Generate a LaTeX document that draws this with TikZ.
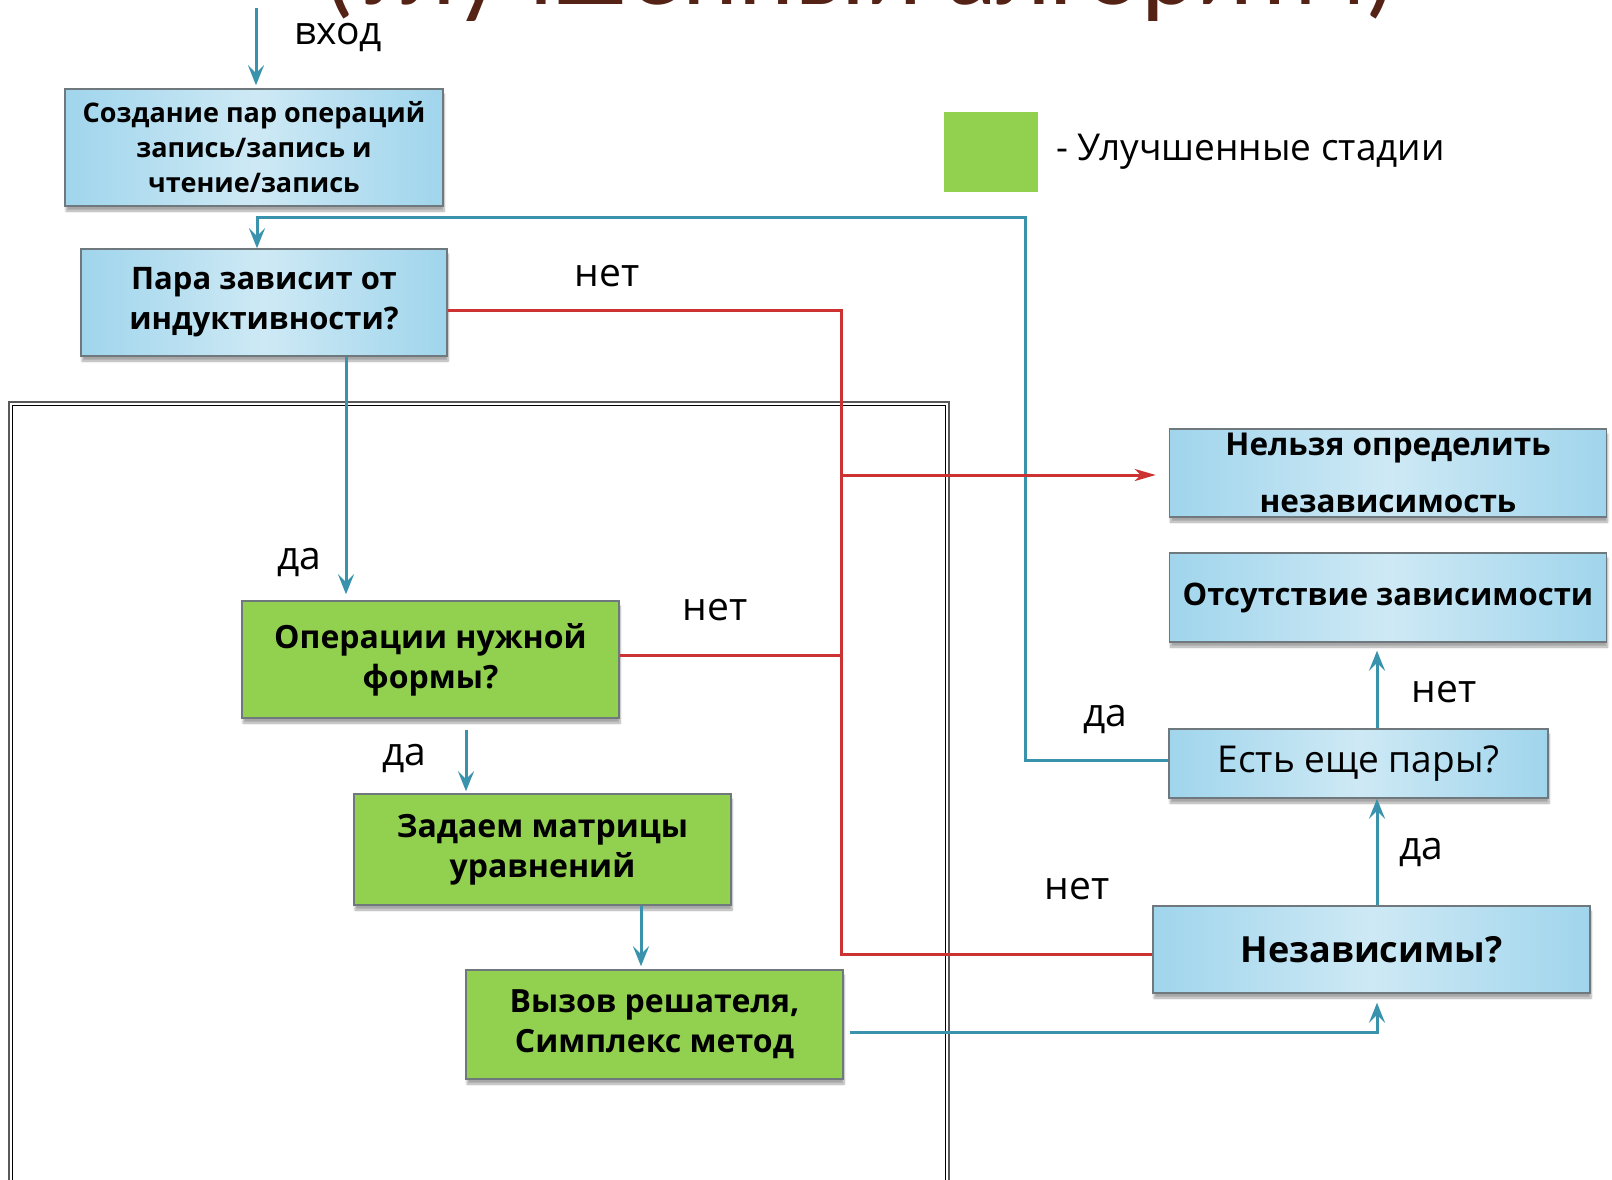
\documentclass[tikz,border=0pt]{standalone}
\usepackage{fontspec}
\setmainfont{Open Sans}
\newfontfamily\titlefont{Carlito}
\usetikzlibrary{arrows.meta,positioning,shadows.blur}

\definecolor{flowBlue}{RGB}{58,147,172}
\definecolor{noRed}{RGB}{204,50,50}
\definecolor{stageGreen}{RGB}{146,208,80}
\definecolor{skyEdge}{RGB}{160,213,236}
\definecolor{skyMid}{RGB}{206,233,245}
\definecolor{boxGray}{RGB}{110,120,125}
\definecolor{titleBrown}{RGB}{85,34,22}

\begin{document}
\begin{tikzpicture}[x=1pt,y=-1pt,
  >={Stealth[length=20pt,width=16pt,inset=8pt]},
  box/.style={draw=boxGray,line width=1.5pt,align=center,inner sep=0pt,
    blur shadow={shadow xshift=1pt,shadow yshift=-5pt,shadow blur steps=6,shadow opacity=35}},
  sky/.style={box,left color=skyEdge,right color=skyEdge,middle color=skyMid},
  better/.style={box,fill=stageGreen},
  yes/.style={flowBlue,line width=3pt},
  no/.style={noRed,line width=3pt,>={Stealth[length=21pt,width=12pt,inset=6pt]}},
  lbl/.style={font=\fontsize{39}{44}\selectfont}]
  \path[use as bounding box] (0,0) rectangle (1612,1179);
  \clip (0,0) rectangle (1612,1179);

  \node[anchor=base,text=titleBrown,font=\titlefont\fontsize{105.5}{110}\selectfont] (title) at (860,4) {(Улучшенный алгоритм)};

  % frame round the improved part
  \draw[black!65,line width=2pt] (9,402) rectangle (949,1220);
  \draw[black,line width=0.8pt] (12.5,405.5) rectangle (945.5,1220);

  \node[sky,minimum width=378pt,minimum height=117pt,font=\bfseries\fontsize{27}{35}\selectfont] (init) at (254,147.5) {Создание пар операций\\запись/запись и\\чтение/запись};
  \node[sky,minimum width=366pt,minimum height=107pt,font=\bfseries\fontsize{31}{40}\selectfont] (pair) at (264,302.5) {Пара зависит от\\индуктивности?};
  \node[better,minimum width=377pt,minimum height=117pt,font=\bfseries\fontsize{32}{40}\selectfont] (form) at (430.5,659.5) {Операции нужной\\формы?};
  \node[better,minimum width=377pt,minimum height=111pt,font=\bfseries\fontsize{32}{40}\selectfont] (matrix) at (542.5,849.5) {Задаем матрицы\\уравнений};
  \node[better,minimum width=377pt,minimum height=109pt,font=\bfseries\fontsize{32}{40}\selectfont] (solver) at (654.5,1024.5) {Вызов решателя,\\Симплекс метод};
  \node[sky,minimum width=437pt,minimum height=88pt,font=\bfseries\fontsize{31.5}{57}\selectfont] (unknown) at (1388,473) {Нельзя определить\\независимость};
  \node[sky,minimum width=437pt,minimum height=89pt,font=\bfseries\fontsize{31}{40}\selectfont] (none) at (1388,597.5) {Отсутствие зависимости};
  \node[sky,minimum width=379pt,minimum height=69pt,font=\fontsize{37}{44}\selectfont] (more) at (1358.5,763.5) {Есть еще пары?};
  \node[sky,minimum width=437pt,minimum height=87pt,font=\bfseries\fontsize{36}{44}\selectfont] (indep) at (1371.5,949.5) {Независимы?};

  % legend
  \node[fill=stageGreen,minimum width=94pt,minimum height=80pt,inner sep=0pt] (key) at (991,152) {};
  \node[right=18pt of key,inner sep=0pt,font=\fontsize{37}{44}\selectfont] (keytext) {- Улучшенные стадии};

  % blue flow
  \coordinate (in) at (256,8);
  \draw[yes,->,shorten >=3pt] (in) -- (in |- init.north);
  \coordinate (loop) at (1025,217);
  \coordinate (j) at (257,217);
  \coordinate (m0) at ([yshift=3.5pt]more.west);
  \draw[yes,->] (m0) -| (loop) -- (j) -- (j |- pair.north);
  \coordinate (p1) at ([xshift=82pt]pair.south);
  \draw[yes,->,shorten >=6pt] (p1) -- (p1 |- form.north);
  \coordinate (f1) at ([xshift=35.5pt]form.south);
  \draw[yes,->,shorten <=11pt,shorten >=2pt] (f1) -- (f1 |- matrix.north);
  \coordinate (m1) at ([xshift=98.5pt]matrix.south);
  \draw[yes,->,shorten >=3pt] (m1) -- (m1 |- solver.north);
  \coordinate (s1) at ([yshift=-7.5pt]solver.east);
  \coordinate (i1) at ([xshift=5.5pt]indep.south);
  \draw[yes,->,shorten <=6pt,shorten >=9pt] (s1) -| (i1);
  \coordinate (i2) at ([xshift=5.5pt]indep.north);
  \draw[yes,->] (i2) -- (i2 |- more.south);
  \coordinate (m2) at ([xshift=18.5pt]more.north);
  \draw[yes,->,shorten >=8pt] (m2) -- (m2 |- none.south);

  % red "no" bus
  \coordinate (bus) at (841,954);
  \coordinate (p2) at ([yshift=-7.5pt]pair.east);
  \draw[no] (p2) -| (bus) -- (bus -| indep.west);
  \coordinate (f2) at ([yshift=4.5pt]form.east);
  \draw[no] (f2) -- (f2 -| bus);
  \coordinate (b2) at (841,475);
  \draw[no,->,shorten >=13pt] (b2) -- (b2 -| unknown.west);

  % labels
  \node[lbl] (inlbl) at (338,37) {вход};
  \node[lbl] (no1) at (607,276) {нет};
  \node[lbl] (yes1) at (299,562) {да};
  \node[lbl] (no2) at (715,610) {нет};
  \node[lbl] (yes2) at (404,758) {да};
  \node[lbl] (yes3) at (1105,719) {да};
  \node[lbl] (no3) at (1444,692) {нет};
  \node[lbl] (yes4) at (1421,852) {да};
  \node[lbl] (no4) at (1077,889) {нет};
\end{tikzpicture}
\end{document}
